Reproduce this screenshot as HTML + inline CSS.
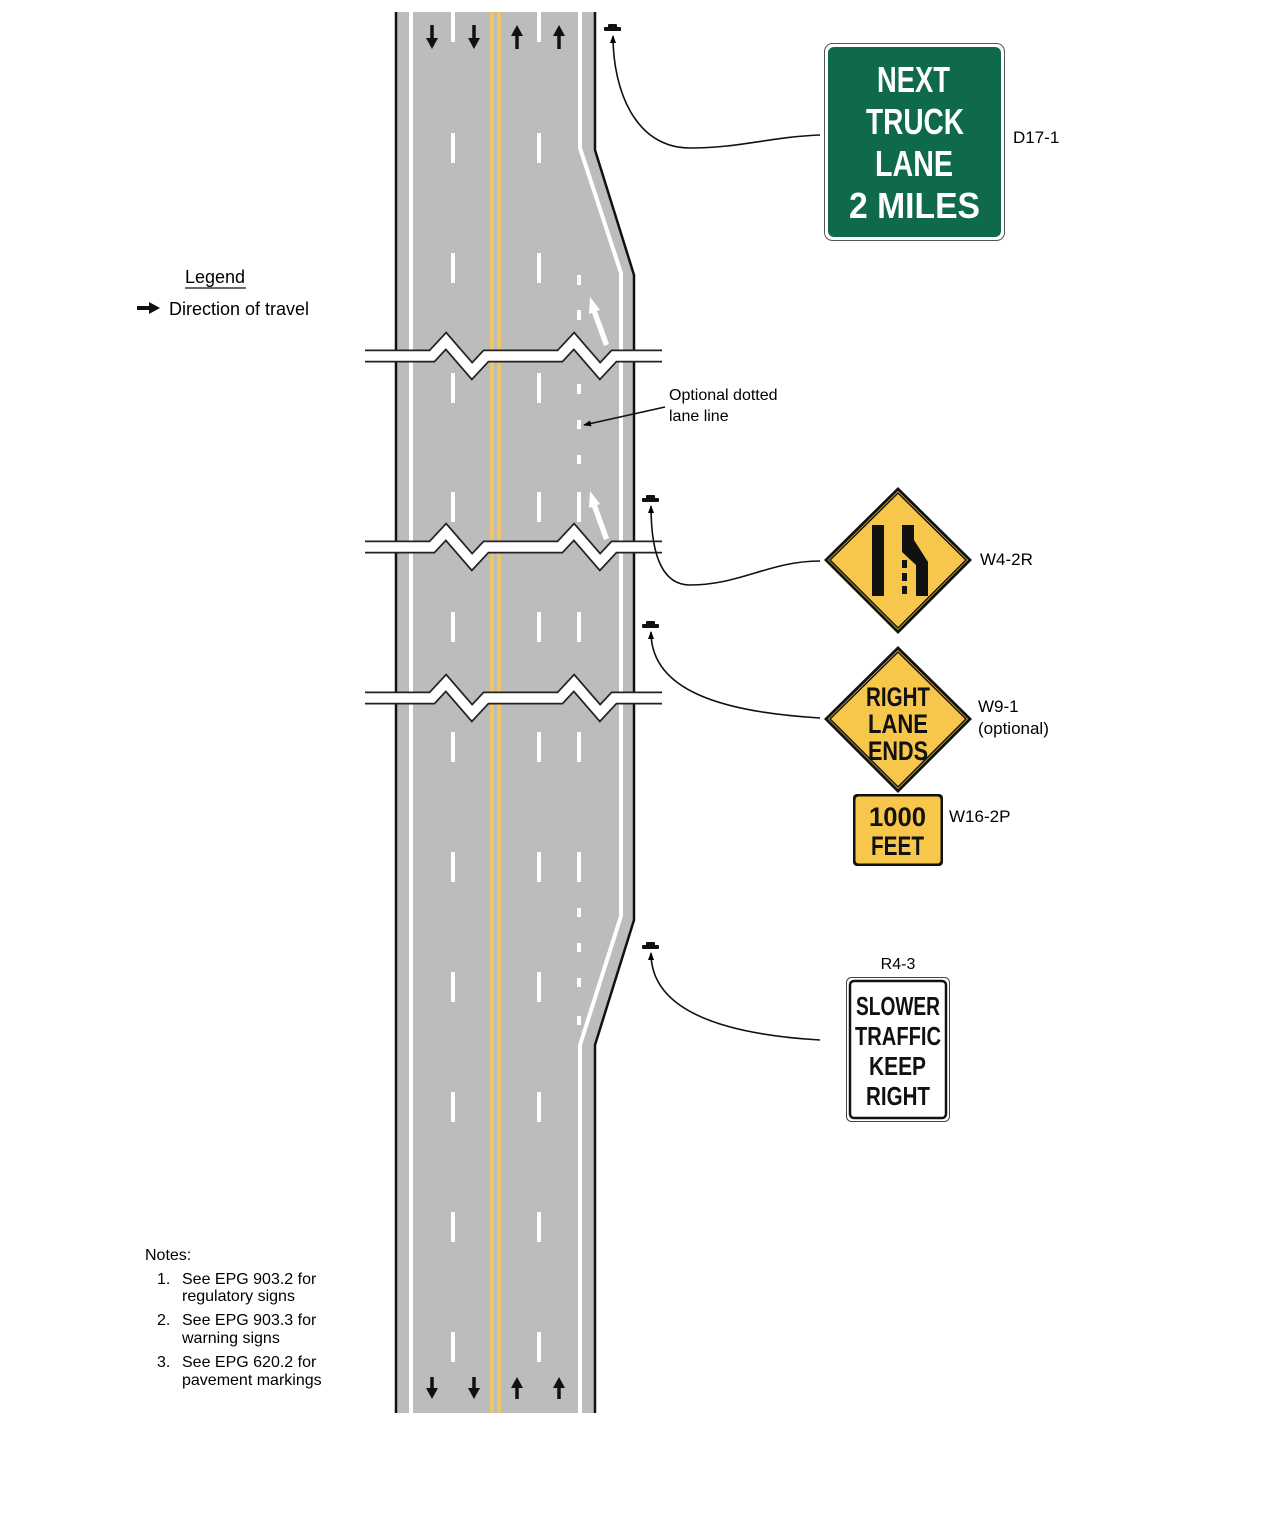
<!DOCTYPE html>
<html><head><meta charset="utf-8"><style>
html,body{margin:0;padding:0;background:#fff;}
svg{display:block;}
text{font-family:"Liberation Sans",sans-serif;}
.sg{font-family:"DejaVu Sans Condensed","DejaVu Sans","Liberation Sans",sans-serif;font-weight:bold;}
</style></head><body>
<svg width="1275" height="1517" viewBox="0 0 1275 1517" xmlns="http://www.w3.org/2000/svg">
<defs>
<marker id="ah" markerWidth="8" markerHeight="8" refX="7" refY="4" orient="auto" markerUnits="userSpaceOnUse"><path d="M0,1 L8,4 L0,7 z" fill="#000"/></marker>
</defs>
<polygon points="396,12 595,12 595,150 634,275 634,920 595,1045 595,1413 396,1413" fill="#bcbcbc"/>
<line x1="396" y1="12" x2="396" y2="1413" stroke="#111" stroke-width="2.5"/>
<polyline points="595,12 595,150 634,275 634,920 595,1045 595,1413" fill="none" stroke="#111" stroke-width="2.5"/>
<line x1="411" y1="12" x2="411" y2="1413" stroke="#fff" stroke-width="4"/>
<polyline points="580,12 580,148 621,273 621,916 580,1045 580,1413" fill="none" stroke="#fff" stroke-width="4"/>
<line x1="492" y1="12" x2="492" y2="1413" stroke="#f5c75a" stroke-width="3.5"/>
<line x1="499" y1="12" x2="499" y2="1413" stroke="#f5c75a" stroke-width="3.5"/>
<g stroke="#fff" stroke-width="4">
<path d="M453,12V42 M539,12V42 M453,133V163 M539,133V163 M453,253V283 M539,253V283 M453,373V403 M539,373V403 M453,492V522 M539,492V522 M453,612V642 M539,612V642 M453,732V762 M539,732V762 M453,852V882 M539,852V882 M453,972V1002 M539,972V1002 M453,1092V1122 M539,1092V1122 M453,1212V1242 M539,1212V1242 M453,1332V1362 M539,1332V1362"/>
<path d="M579,275V285 M579,310V320 M579,384V394 M579,420V429 M579,455V464 M579,492V522 M579,612V642 M579,732V762 M579,852V882 M579,908V917 M579,943V952 M579,978V987 M579,1016V1025"/>
</g>
<g fill="#fff">
<polygon points="590,297 600,310 597,311 609,344 604,346 592,313 589,314"/>
<polygon points="590,491 600,504 597,505 609,538 604,540 592,507 589,508"/>
</g>
<g fill="#111" stroke="#111">
<g stroke-width="3.5"><path d="M432,25V40 M474,25V40 M517,34V49 M559,34V49 M432,1377V1390 M474,1377V1390 M517,1386V1399 M559,1386V1399"/></g>
<g stroke="none">
<polygon points="426,38 438,38 432,49"/><polygon points="468,38 480,38 474,49"/>
<polygon points="511,36 523,36 517,25"/><polygon points="553,36 565,36 559,25"/>
<polygon points="426,1388 438,1388 432,1399"/><polygon points="468,1388 480,1388 474,1399"/>
<polygon points="511,1388 523,1388 517,1377"/><polygon points="553,1388 565,1388 559,1377"/>
</g></g>
<g fill="none" stroke-linejoin="miter">
<g stroke="#222" stroke-width="13">
<polyline points="365,356 432,356 446,341 472,371 486,356 560,356 574,341 600,371 614,356 662,356"/>
<polyline points="365,547 432,547 446,532 472,562 486,547 560,547 574,532 600,562 614,547 662,547"/>
<polyline points="365,698 432,698 446,683 472,713 486,698 560,698 574,683 600,713 614,698 662,698"/>
</g>
<g stroke="#fff" stroke-width="9.5">
<polyline points="364,356 432,356 446,341 472,371 486,356 560,356 574,341 600,371 614,356 663,356"/>
<polyline points="364,547 432,547 446,532 472,562 486,547 560,547 574,532 600,562 614,547 663,547"/>
<polyline points="364,698 432,698 446,683 472,713 486,698 560,698 574,683 600,713 614,698 663,698"/>
</g></g>
<g fill="#111">
<rect x="604" y="27" width="17" height="4" rx="1"/><rect x="608" y="24" width="9" height="4" rx="1"/>
<rect x="642" y="498" width="17" height="4" rx="1"/><rect x="646" y="495" width="9" height="4" rx="1"/>
<rect x="642" y="624" width="17" height="4" rx="1"/><rect x="646" y="621" width="9" height="4" rx="1"/>
<rect x="642" y="945" width="17" height="4" rx="1"/><rect x="646" y="942" width="9" height="4" rx="1"/>
</g>
<g fill="none" stroke="#111" stroke-width="1.6">
<path d="M820,135 C770,137 740,148 690,148 C635,148 613,90 613,36" marker-end="url(#ah)"/>
<path d="M820,561 C770,561 740,585 690,585 C660,585 651,550 651,506" marker-end="url(#ah)"/>
<path d="M820,718 C720,712 651,690 651,632" marker-end="url(#ah)"/>
<path d="M820,1040 C720,1034 651,1010 651,953" marker-end="url(#ah)"/>
<path d="M665,407 L584,425" marker-end="url(#ah)"/>
</g>
<rect x="824.5" y="43.5" width="180" height="197" rx="8" fill="#fff" stroke="#555" stroke-width="1"/>
<rect x="828" y="47" width="173" height="190" rx="6" fill="#0e6a4b"/>
<g class="sg" fill="#fff" font-size="36">
<text x="877" y="92" textLength="73" lengthAdjust="spacingAndGlyphs">NEXT</text>
<text x="866" y="134" textLength="98" lengthAdjust="spacingAndGlyphs">TRUCK</text>
<text x="875" y="176" textLength="78" lengthAdjust="spacingAndGlyphs">LANE</text>
<text x="849" y="218" textLength="131" lengthAdjust="spacingAndGlyphs">2  MILES</text>
</g>
<text x="1013" y="143" font-size="17">D17-1</text>
<polygon points="898,487 972,560 898,634 824,560" fill="#111"/>
<polygon points="898,491 968,560 898,630 828,560" fill="#f7c74c"/>
<polygon points="898,493 966,560 898,628 830,560" fill="none" stroke="#111" stroke-width="1.5"/>
<rect x="872" y="525" width="12" height="71" fill="#111"/>
<polygon points="902,525 914,525 914,540 928,562 928,596 916,596 916,565 902,552" fill="#111"/>
<rect x="902" y="560" width="5" height="8" fill="#111"/><rect x="902" y="573" width="5" height="8" fill="#111"/><rect x="902" y="586" width="5" height="8" fill="#111"/>
<text x="980" y="565" font-size="17">W4-2R</text>
<polygon points="898,646 972,719 898,793 824,719" fill="#111"/>
<polygon points="898,650 968,719 898,789 828,719" fill="#f7c74c"/>
<polygon points="898,652 966,719 898,787 830,719" fill="none" stroke="#111" stroke-width="1.5"/>
<g class="sg" fill="#111" font-size="27">
<text x="866" y="706" textLength="64" lengthAdjust="spacingAndGlyphs">RIGHT</text>
<text x="868" y="733" textLength="60" lengthAdjust="spacingAndGlyphs">LANE</text>
<text x="868" y="760" textLength="60" lengthAdjust="spacingAndGlyphs">ENDS</text>
</g>
<text x="978" y="712" font-size="17">W9-1</text>
<text x="978" y="734" font-size="17">(optional)</text>
<rect x="853" y="794" width="90" height="72" rx="4" fill="#111"/>
<rect x="855.5" y="796.5" width="85" height="67" rx="3" fill="#f7c74c"/>
<g class="sg" fill="#111" font-size="27">
<text x="869" y="826" textLength="57" lengthAdjust="spacingAndGlyphs">1000</text>
<text x="871" y="855" textLength="53" lengthAdjust="spacingAndGlyphs">FEET</text>
</g>
<text x="949" y="822" font-size="17">W16-2P</text>
<text x="898" y="969" font-size="16" text-anchor="middle">R4-3</text>
<rect x="846.5" y="977.5" width="103" height="144" rx="5" fill="#fff" stroke="#444" stroke-width="1"/>
<rect x="850" y="981" width="96" height="137" rx="4" fill="none" stroke="#111" stroke-width="2.5"/>
<g class="sg" fill="#111" font-size="26">
<text x="856" y="1015" textLength="84" lengthAdjust="spacingAndGlyphs">SLOWER</text>
<text x="855" y="1045" textLength="86" lengthAdjust="spacingAndGlyphs">TRAFFIC</text>
<text x="869" y="1075" textLength="57" lengthAdjust="spacingAndGlyphs">KEEP</text>
<text x="866" y="1105" textLength="64" lengthAdjust="spacingAndGlyphs">RIGHT</text>
</g>
<text x="669" y="400" font-size="16">Optional dotted</text>
<text x="669" y="421" font-size="16">lane line</text>
<text x="185" y="283" font-size="18">Legend</text>
<line x1="185" y1="288" x2="246" y2="288" stroke="#111" stroke-width="1.3"/>
<rect x="137" y="306" width="13" height="4" fill="#111"/>
<polygon points="149,302 160,308 149,314" fill="#111"/>
<text x="169" y="315" font-size="18">Direction of travel</text>
<g font-size="16">
<text x="145" y="1260">Notes:</text>
<text x="157" y="1284">1.</text><text x="182" y="1284">See EPG 903.2 for</text><text x="182" y="1301">regulatory signs</text>
<text x="157" y="1325">2.</text><text x="182" y="1325">See EPG 903.3 for</text><text x="182" y="1343">warning signs</text>
<text x="157" y="1367">3.</text><text x="182" y="1367">See EPG 620.2 for</text><text x="182" y="1385">pavement markings</text>
</g>
</svg>
</body></html>
